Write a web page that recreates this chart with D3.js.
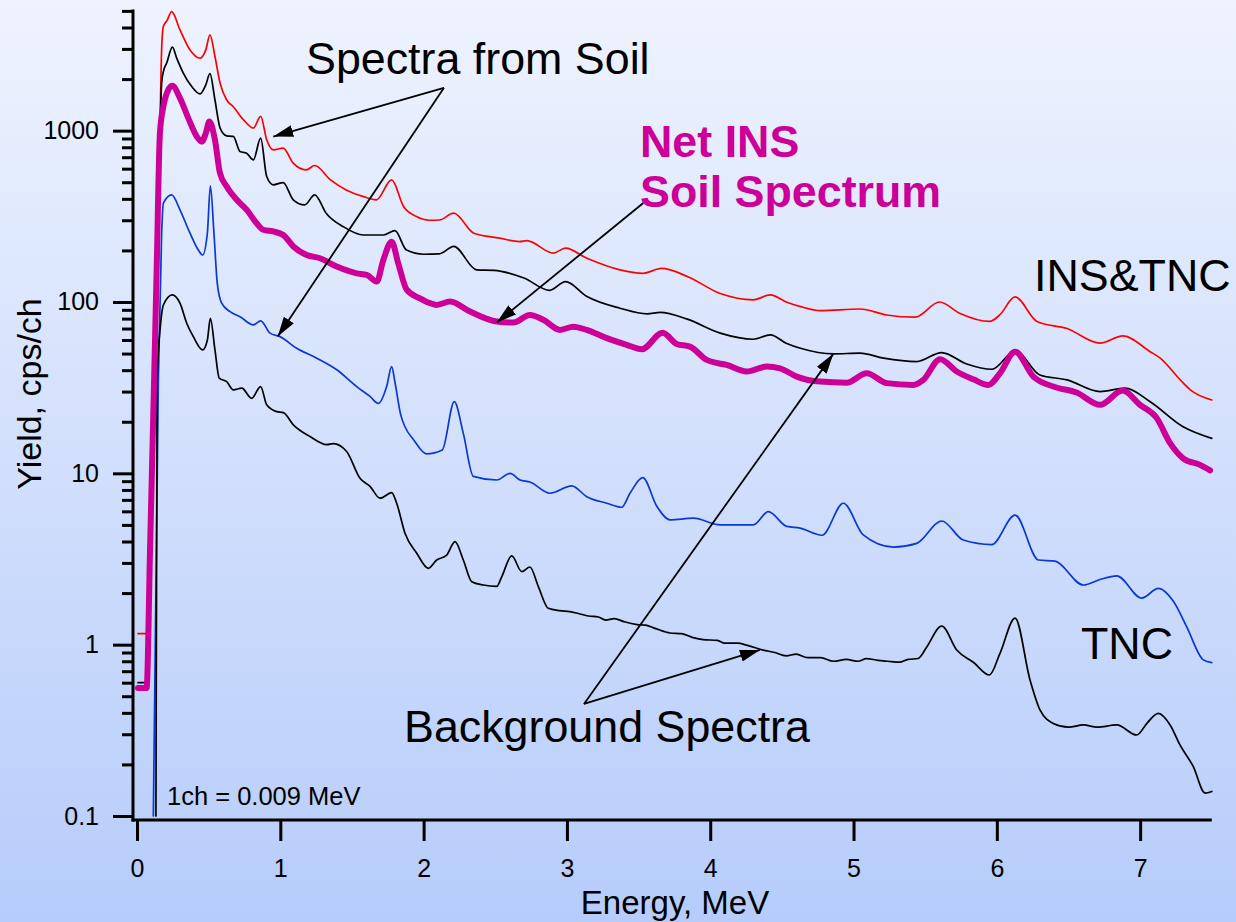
<!DOCTYPE html>
<html>
<head>
<meta charset="utf-8">
<script src="https://cdn.jsdelivr.net/npm/d3@7"></script>
<style>
  html, body { margin: 0; padding: 0; background: #ffffff; }
  svg { display: block; }
</style>
</head>
<body>
<svg id="chart" width="1236" height="922"></svg>
<script>
// ---- Gamma spectra: [energy (MeV), yield (cps/ch)] ----

// Soil, INS&TNC (red)
const soilInsTnc = [
  [0.007,1.16],[0.075,1.16],[0.091,4.2],[0.114,23],[0.137,155],[0.16,1000],[0.172,3000],
  [0.184,4050],[0.21,4400],[0.242,4950],[0.30,3870],[0.37,2960],[0.44,2650],[0.48,2960],
  [0.509,3620],[0.544,2710],[0.58,1890],[0.626,1510],[0.672,1380],[0.742,1160],[0.812,1035],
  [0.863,1210],[0.905,884],[0.951,773],[1.02,791],[1.09,646],[1.18,590],[1.24,626],[1.35,516],
  [1.46,451],[1.58,412],[1.67,395],[1.777,516],[1.86,361],[1.95,315],[2.04,300],[2.11,301],
  [2.21,330],[2.35,252],[2.53,236],[2.67,225],[2.72,228],[2.905,193],[2.99,206],[3.14,180],
  [3.37,154],[3.53,147],[3.66,157],[3.84,141],[4.07,112],[4.30,103],[4.42,110],[4.53,100],
  [4.63,94],[4.77,89],[5.045,91],[5.23,84],[5.43,81.5],[5.60,100],[5.74,86],[5.95,77],
  [6.02,84],[6.127,107],[6.28,77],[6.49,70],[6.72,57.5],[6.88,63.4],[7.07,51.3],[7.14,47],
  [7.28,35.1],[7.35,30.7],[7.50,26.8]
];

// Background, INS&TNC (black, upper)
const bgInsTnc = [
  [0.007,0.6],[0.065,0.6],[0.091,4],[0.114,23],[0.137,153],[0.16,975],[0.172,1900],
  [0.184,2210],[0.207,2480],[0.247,3070],[0.277,2650],[0.323,2170],[0.382,1810],[0.44,1640],
  [0.48,1850],[0.509,2150],[0.544,1510],[0.58,1035],[0.626,933],[0.672,925],[0.719,755],
  [0.765,738],[0.812,676],[0.863,904],[0.905,540],[0.951,483],[1.02,498],[1.09,395],
  [1.17,369],[1.24,422],[1.32,330],[1.44,275],[1.58,246],[1.72,246],[1.80,261],[1.88,201],
  [2.0,190],[2.11,191],[2.21,211],[2.37,154],[2.49,153],[2.70,138],[2.88,117],[2.99,131.5],
  [3.14,107.6],[3.37,92],[3.56,85.3],[3.65,87],[3.84,79.4],[4.07,65.8],[4.30,60.6],[4.42,64.3],
  [4.53,57.5],[4.63,53.7],[4.86,49.8],[5.045,50.3],[5.21,47],[5.44,44.9],[5.615,50.7],
  [5.79,43.5],[5.965,40.5],[6.13,52],[6.30,37.5],[6.49,35.1],[6.72,30],[6.895,31.4],
  [7.07,26.2],[7.30,18.7],[7.50,16]
];

// Soil, TNC (blue)
const soilTnc = [
  [0.114,0.1],[0.149,35],[0.172,253],[0.184,378],[0.242,422],[0.30,345],[0.37,252],
  [0.428,201],[0.458,188],[0.491,252],[0.512,476],[0.537,252],[0.56,129],[0.591,98.4],
  [0.649,87.9],[0.719,82],[0.812,73.5],[0.863,77.6],[0.928,65.8],[0.998,62.8],[1.114,53.7],
  [1.254,47],[1.394,40.2],[1.533,32.1],[1.626,28.1],[1.684,25.6],[1.742,32.1],[1.777,42],
  [1.80,34],[1.84,22],[1.87,18.7],[1.93,15.7],[2.02,13.0],[2.13,13.7],[2.214,26.2],
  [2.277,17.1],[2.347,9.6],[2.51,9.14],[2.603,10],[2.673,9.14],[2.742,8.9],[2.882,7.65],
  [3.034,8.44],[3.138,7.31],[3.278,6.69],[3.382,6.34],[3.44,7.65],[3.529,9.45],[3.627,6.43],
  [3.72,5.35],[3.882,5.47],[4.068,5.0],[4.301,5.0],[4.405,5.97],[4.534,4.9],[4.627,4.79],
  [4.78,4.35],[4.929,6.69],[5.068,4.37],[5.278,3.71],[5.441,3.9],[5.615,5.27],[5.766,4.08],
  [5.964,3.84],[6.127,5.71],[6.29,3.12],[6.406,3.07],[6.604,2.23],[6.72,2.4],[6.837,2.52],
  [7.011,1.87],[7.127,2.13],[7.232,1.79],[7.325,1.27],[7.441,0.815],[7.5,0.785]
];

// Background, TNC (black, lower)
const bgTnc = [
  [0.132,0.1],[0.14,35],[0.165,75],[0.184,96],[0.246,110],[0.30,98.4],[0.347,75.2],
  [0.393,62.8],[0.458,52.5],[0.491,60],[0.512,80.4],[0.544,52.5],[0.574,35.9],[0.626,34.3],
  [0.672,30.7],[0.731,31.4],[0.80,27.4],[0.863,32.1],[0.905,25.1],[0.975,22.9],[1.021,22.6],
  [1.091,19.2],[1.207,16.4],[1.324,14.7],[1.37,14.9],[1.463,13.4],[1.556,9.35],[1.626,8.4],
  [1.696,7.16],[1.777,7.71],[1.812,6.69],[1.87,4.47],[1.952,3.42],[2.033,2.79],[2.091,3.12],
  [2.161,3.33],[2.219,3.99],[2.277,3.12],[2.336,2.33],[2.417,2.23],[2.51,2.19],[2.545,2.49],
  [2.615,3.30],[2.685,2.67],[2.742,2.84],[2.80,2.19],[2.87,1.63],[2.95,1.58],[3.02,1.56],
  [3.08,1.52],[3.15,1.47],[3.22,1.45],[3.27,1.39],[3.33,1.42],[3.40,1.36],[3.49,1.31],
  [3.55,1.30],[3.62,1.24],[3.72,1.17],[3.80,1.16],[3.88,1.10],[3.95,1.07],[4.05,1.06],
  [4.10,1.02],[4.19,1.02],[4.26,0.99],[4.37,0.93],[4.45,0.90],[4.53,0.86],[4.60,0.88],
  [4.68,0.84],[4.77,0.84],[4.86,0.80],[4.95,0.82],[5.03,0.80],[5.09,0.83],[5.17,0.81],
  [5.24,0.80],[5.32,0.79],[5.38,0.82],[5.45,0.83],[5.511,0.97],[5.615,1.285],[5.72,0.93],
  [5.836,0.79],[5.948,0.665],[6.022,0.89],[6.127,1.43],[6.232,0.62],[6.301,0.416],
  [6.394,0.347],[6.50,0.33],[6.604,0.34],[6.70,0.33],[6.837,0.34],[6.976,0.297],[7.05,0.35],
  [7.127,0.397],[7.209,0.34],[7.278,0.26],[7.371,0.194],[7.453,0.136],[7.5,0.139]
];

// Net INS soil spectrum (magenta, thick)
const netIns = [
  [0.007,0.558],[0.067,0.558],[0.091,3.6],[0.114,22.6],[0.137,152],[0.16,970],[0.184,1382],
  [0.218,1730],[0.246,1829],[0.30,1549],[0.358,1183],[0.417,925],[0.451,863],[0.48,965],
  [0.505,1130],[0.544,884],[0.579,565],[0.626,472],[0.696,395],[0.766,345],[0.835,288],
  [0.881,264],[0.951,258],[1.021,246],[1.091,211],[1.184,188],[1.277,180],[1.394,161],
  [1.533,147],[1.603,144],[1.673,131.5],[1.719,176],[1.777,225],[1.823,168],[1.882,118],
  [1.975,105],[2.045,98.4],[2.091,96.2],[2.184,100.5],[2.324,87.9],[2.51,76.9],[2.626,75.8],
  [2.742,84],[2.835,78.7],[2.952,68.7],[3.045,71.8],[3.138,68.7],[3.278,61.5],[3.417,56.2],
  [3.522,53],[3.668,66.2],[3.766,56.9],[3.859,54.9],[3.976,45.9],[4.115,42.9],[4.255,39.3],
  [4.394,42],[4.487,41],[4.604,36.7],[4.766,34.3],[4.952,33.8],[5.092,38.4],[5.232,33.6],
  [5.417,32.8],[5.487,35.1],[5.604,46.4],[5.72,39.3],[5.836,35.4],[5.941,32.8],[6.022,38.4],
  [6.127,51.3],[6.255,36.7],[6.394,32.1],[6.557,29.6],[6.72,25.1],[6.878,30.4],[6.999,25.1],
  [7.116,21],[7.209,15],[7.302,12.2],[7.418,11.2],[7.488,10.4]
];

// Axis ticks
const xTickValues = [0, 1, 2, 3, 4, 5, 6, 7];
const yTickValues = [0.1, 1, 10, 100, 1000];
const yTickLabels = ["0.1", "1", "10", "100", "1000"];

// Annotation arrows: [from, to] in [energy, yield]
const soilArrows = [
  [[2.142, 1778], [0.951, 924]],
  [[2.142, 1778], [0.982, 62.8]]
];
const netArrows = [
  [[3.533, 378], [2.51, 75.9]]
];
const bgArrows = [
  [[3.119, 0.451], [4.347, 0.931]],
  [[3.119, 0.451], [4.859, 49.8]]
];

// ---- Drawing ----
const W = 1236, H = 922;
const FONT = '"Liberation Sans", Arial, Helvetica, sans-serif';
const MAGENTA = "#cc0099";
const BIG = 44.8;

const svg = d3.select("#chart");
const defs = svg.append("defs");

const grad = defs.append("linearGradient")
  .attr("id", "bgGrad").attr("x1", 0).attr("y1", 0).attr("x2", 0).attr("y2", 1);
grad.append("stop").attr("offset", "0%").attr("stop-color", "#eef3fe");
grad.append("stop").attr("offset", "100%").attr("stop-color", "#b6ccfa");

defs.append("marker")
  .attr("id", "head")
  .attr("markerUnits", "userSpaceOnUse")
  .attr("viewBox", "0 -7 20 14")
  .attr("refX", 20).attr("refY", 0)
  .attr("markerWidth", 20).attr("markerHeight", 14)
  .attr("orient", "auto")
  .append("path")
  .attr("d", "M0,-6L20,0L0,6Z")
  .attr("fill", "#000");

svg.append("rect").attr("width", W).attr("height", H).attr("fill", "url(#bgGrad)");

const x = d3.scaleLinear().domain([0, 7.5]).range([137, 1211.8]);
const y = d3.scaleLog().domain([0.1, 5000]).range([816, 10.9]);

const AXIS_X = 133, AXIS_Y = 820;

// Y axis: major ticks with labels, minor ticks without
const yMinor = [];
[0.1, 1, 10, 100, 1000].forEach(dec => {
  for (let m = 2; m <= 9; m++) {
    const v = +(dec * m).toPrecision(3);
    if (v <= 5000) yMinor.push(v);
  }
});

const gyMinor = svg.append("g")
  .attr("transform", `translate(${AXIS_X},0)`)
  .call(d3.axisLeft(y).tickValues(yMinor).tickSize(11).tickFormat(""));
gyMinor.select(".domain").remove();
gyMinor.selectAll("line").attr("stroke", "#000").attr("stroke-width", 3);

const gy = svg.append("g")
  .attr("transform", `translate(${AXIS_X},0)`)
  .call(d3.axisLeft(y).tickValues(yTickValues)
    .tickFormat((d, i) => yTickLabels[i]).tickSize(20).tickPadding(14));
gy.select(".domain").remove();
gy.selectAll("line").attr("stroke", "#000").attr("stroke-width", 3);
gy.selectAll("text")
  .attr("font-family", FONT).attr("font-size", 25).attr("fill", "#000");

// X axis
const gx = svg.append("g")
  .attr("transform", `translate(0,${AXIS_Y})`)
  .call(d3.axisBottom(x).tickValues(xTickValues).tickFormat(d3.format("d")).tickSize(21));
gx.select(".domain").remove();
gx.selectAll("line").attr("stroke", "#000").attr("stroke-width", 3);
gx.selectAll("text")
  .attr("font-family", FONT).attr("font-size", 25).attr("fill", "#000")
  .attr("y", 57).attr("dy", 0);

// Axis lines
svg.append("line")
  .attr("x1", AXIS_X).attr("x2", AXIS_X)
  .attr("y1", y(5000) - 1.5).attr("y2", AXIS_Y + 1.5)
  .attr("stroke", "#000").attr("stroke-width", 3);
svg.append("line")
  .attr("x1", AXIS_X - 1.5).attr("x2", x(7.5))
  .attr("y1", AXIS_Y).attr("y2", AXIS_Y)
  .attr("stroke", "#000").attr("stroke-width", 3);

// Spectra
const line = d3.line()
  .x(d => x(d[0]))
  .y(d => y(d[1]))
  .curve(d3.curveMonotoneX);

const series = [
  { data: soilInsTnc, color: "#ff0000", width: 1.7 },
  { data: bgInsTnc,   color: "#000000", width: 1.7 },
  { data: soilTnc,    color: "#0a38d0", width: 1.7 },
  { data: bgTnc,      color: "#000000", width: 1.7 },
  { data: netIns,     color: MAGENTA,   width: 6 }
];

svg.append("g").selectAll("path")
  .data(series)
  .join("path")
  .attr("d", s => line(s.data))
  .attr("fill", "none")
  .attr("stroke", s => s.color)
  .attr("stroke-width", s => s.width)
  .attr("stroke-linejoin", "round")
  .attr("stroke-linecap", "round");

// Annotation arrows
svg.append("g").selectAll("line")
  .data([...soilArrows, ...netArrows, ...bgArrows])
  .join("line")
  .attr("x1", d => x(d[0][0])).attr("y1", d => y(d[0][1]))
  .attr("x2", d => x(d[1][0])).attr("y2", d => y(d[1][1]))
  .attr("stroke", "#000").attr("stroke-width", 1.8)
  .attr("marker-end", "url(#head)");

// Labels
function label(txt, px, py, opts = {}) {
  return svg.append("text")
    .attr("x", px).attr("y", py)
    .attr("font-family", FONT)
    .attr("font-size", opts.size || BIG)
    .attr("font-weight", opts.weight || "normal")
    .attr("fill", opts.color || "#000")
    .attr("text-anchor", opts.anchor || "start")
    .text(txt);
}

label("Spectra from Soil", 306, 74);
label("Net INS", 640, 157, { weight: "bold", color: MAGENTA });
label("Soil Spectrum", 640, 207, { weight: "bold", color: MAGENTA });
label("INS&TNC", 1034, 291);
label("TNC", 1081, 659);
label("Background Spectra", 404, 742);
label("1ch = 0.009 MeV", 167, 805, { size: 25.5 });
label("Energy, MeV", 675, 914, { size: 33, anchor: "middle" });

svg.append("text")
  .attr("transform", "translate(41,394) rotate(-90)")
  .attr("font-family", FONT).attr("font-size", 34)
  .attr("text-anchor", "middle").attr("fill", "#000")
  .text("Yield, cps/ch");
</script>
</body>
</html>
